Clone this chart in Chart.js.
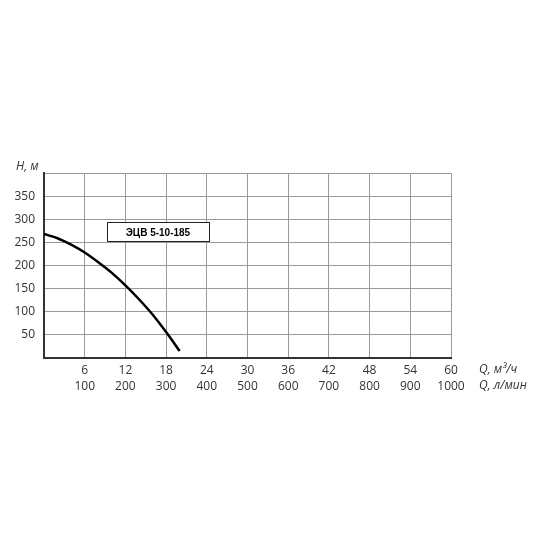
<!DOCTYPE html>
<html>
<head>
<meta charset="utf-8">
<script src="https://cdn.jsdelivr.net/npm/chart.js@4"></script>
<style>
  html, body { margin: 0; padding: 0; background: #fff; }
  #wrap { width: 550px; height: 550px; }
</style>
</head>
<body>
<div id="wrap"><canvas id="pumpChart"></canvas></div>
<script>
// Pump curve data (Q in m3/h, H in m)
const qValues = [0, 2, 4, 6, 8, 10, 12, 14, 16, 18, 20];
const hValues = [268, 259, 245, 228, 207, 184, 157, 127, 94, 56, 15];
const qTicksM3 = [6, 12, 18, 24, 30, 36, 42, 48, 54, 60];
const qTicksLmin = [100, 200, 300, 400, 500, 600, 700, 800, 900, 1000];
const hTicks = [50, 100, 150, 200, 250, 300, 350];
const pumpName = "ЭЦВ 5-10-185";

const fontFamily = "'Open Sans', sans-serif";
const textColor = "#333";

// Axis titles and pump label box
const extrasPlugin = {
    id: 'extras',
    afterDraw(chart) {
        const c = chart.ctx;
        const area = chart.chartArea;
        const xs = chart.scales.x, ys = chart.scales.y;
        c.save();
        c.fillStyle = textColor;
        c.font = "italic 12px " + fontFamily;
        c.textBaseline = 'middle';
        c.textAlign = 'left';
        c.fillText("H, м", 16, area.top - 6);
        c.fillText("Q, м³/ч", area.right + 28, area.bottom + 12);
        c.fillText("Q, л/мин", area.right + 28, area.bottom + 28);

        // label box
        const x1 = xs.getPixelForValue(9.3), x2 = xs.getPixelForValue(24.3);
        const y1 = ys.getPixelForValue(293), y2 = ys.getPixelForValue(251);
        c.fillStyle = '#fff';
        c.fillRect(x1, y1, x2 - x1, y2 - y1);
        c.strokeStyle = '#222';
        c.lineWidth = 1;
        c.strokeRect(Math.round(x1) + 0.5, Math.round(y1) + 0.5, Math.round(x2 - x1), Math.round(y2 - y1));
        c.fillStyle = '#000';
        c.font = "bold 10px 'Liberation Sans', Arial, sans-serif";
        c.textAlign = 'center';
        c.fillText(pumpName, (x1 + x2) / 2, (y1 + y2) / 2 + 1);
        c.restore();
    }
};

const ctx = document.getElementById('pumpChart').getContext('2d');
new Chart(ctx, {
    type: 'line',
    data: {
        datasets: [{
            label: pumpName,
            data: qValues.map((q, i) => ({ x: q, y: hValues[i] })),
            borderColor: '#000',
            borderWidth: 2.5,
            pointRadius: 0,
            fill: false,
            cubicInterpolationMode: 'monotone'
        }]
    },
    options: {
        responsive: true,
        maintainAspectRatio: false,
        animation: false,
        layout: { padding: { left: 0, top: 173, right: 99, bottom: 0 } },
        plugins: {
            legend: { display: false },
            tooltip: { enabled: false }
        },
        scales: {
            x: {
                type: 'linear',
                min: 0,
                max: 60,
                afterFit(scale) { scale.height = 192; },
                afterBuildTicks(scale) {
                    scale.ticks = [0].concat(qTicksM3).map(v => ({ value: v }));
                },
                ticks: {
                    color: textColor,
                    font: { family: fontFamily, size: 12, lineHeight: 1.35 },
                    padding: 4,
                    maxRotation: 0,
                    autoSkip: false,
                    callback(value) {
                        const i = qTicksM3.indexOf(value);
                        return i < 0 ? '' : [String(value), String(qTicksLmin[i])];
                    }
                },
                grid: { color: '#9a9a9a', lineWidth: 1, drawTicks: false },
                border: { color: '#333', width: 2 }
            },
            y: {
                type: 'linear',
                min: 0,
                max: 400,
                afterFit(scale) { scale.width = 44; },
                afterBuildTicks(scale) {
                    scale.ticks = [0].concat(hTicks, [400]).map(v => ({ value: v }));
                },
                ticks: {
                    color: textColor,
                    font: { family: fontFamily, size: 12 },
                    padding: 9,
                    callback(value) {
                        return hTicks.includes(value) ? String(value) : '';
                    }
                },
                grid: { color: '#9a9a9a', lineWidth: 1, drawTicks: false },
                border: { color: '#333', width: 2 }
            }
        }
    },
    plugins: [extrasPlugin]
});
</script>
</body>
</html>
